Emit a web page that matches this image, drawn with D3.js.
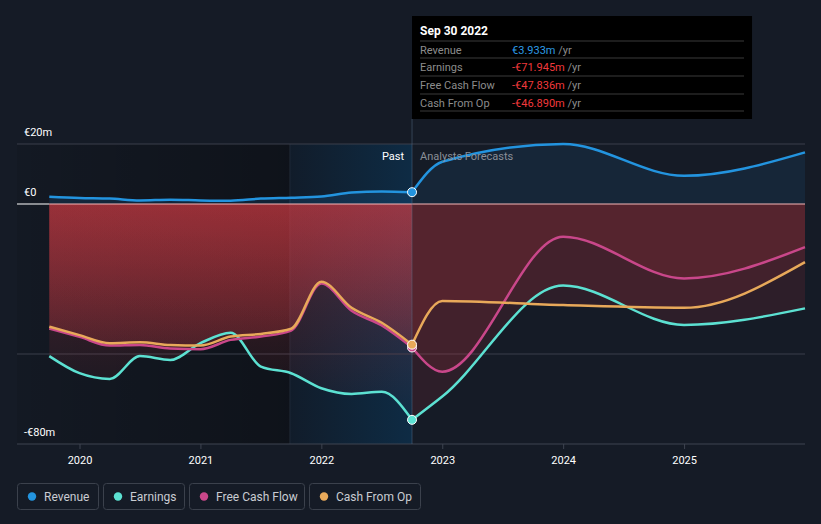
<!DOCTYPE html>
<html>
<head>
<meta charset="utf-8">
<script src="https://cdn.jsdelivr.net/npm/d3@7"></script>
<style>
  body { margin: 0; background: #151b26; }
  svg { display: block; font-family: Roboto, "Open Sans", sans-serif; }
</style>
</head>
<body>
<div id="chart"></div>
<script>
// past data (quarterly, trailing twelve months), in €m
var pastDates = [2019.75, 2020, 2020.25, 2020.5, 2020.75, 2021, 2021.25, 2021.5, 2021.75, 2022, 2022.25, 2022.5, 2022.75];
var pastRevenue = [2.4, 2.0, 1.8, 1.2, 1.4, 1.2, 1.1, 1.8, 2.1, 2.5, 3.8, 4.2, 3.933];
var pastEarnings = [-50.7, -56.4, -58.3, -50.7, -52, -46.4, -42.9, -54.2, -56.4, -61.4, -63.3, -62.6, -71.945];
var pastFcf = [-41.5, -44.3, -47.2, -47, -48.2, -48.4, -45.3, -44.2, -42.2, -26.5, -35.6, -40.5, -47.836];
var pastCfo = [-40.9, -43.7, -46.4, -46.1, -47, -47.2, -44.2, -43.3, -41.6, -25.9, -34.6, -39.6, -46.89];

// analyst forecasts (year ends)
var fcDates = [2022.75, 2023, 2024, 2025, 2026];
var fcRevenue = [3.933, 14.1, 20, 9.4, 17.2];
var fcEarnings = [-71.945, -64.2, -27.2, -40.3, -34.8];
var fcFcf = [-47.836, -55.9, -10.9, -24.8, -14.4];
var fcCfo = [-46.89, -32.3, -33.7, -34.6, -19.4];

var yearTicks = [2020, 2021, 2022, 2023, 2024, 2025];
var yTickLabels = [{v: 20, t: "€20m"}, {v: 0, t: "€0"}, {v: -80, t: "-€80m"}];
var gridValues = [20, -50];

var seriesNames = ["Revenue", "Earnings", "Free Cash Flow", "Cash From Op"];
var seriesColors = ["#2394df", "#5ce1d2", "#c9478a", "#e8a95a"];
var tipValues = ["€3.933m", "-€71.945m", "-€47.836m", "-€46.890m"];

var W = 821, H = 524;
var left = 17, right = 805;
var splitDate = 2022.75, pastStart = 2021.74;

var x = d3.scaleLinear().domain([2019.483, 2026]).range([left, right]);
var y = d3.scaleLinear().domain([-80, 20]).range([444, 144]);

var svg = d3.select("#chart").append("svg")
    .attr("width", W).attr("height", H);

var defs = svg.append("defs");

var g1 = defs.append("linearGradient").attr("id", "darkPast")
    .attr("x1", 0).attr("x2", 1).attr("y1", 0).attr("y2", 0);
g1.append("stop").attr("offset", 0).attr("stop-color", "#000").attr("stop-opacity", 0.08);
g1.append("stop").attr("offset", 1).attr("stop-color", "#000").attr("stop-opacity", 0.32);

var g2 = defs.append("linearGradient").attr("id", "lastYear")
    .attr("x1", 0).attr("x2", 1).attr("y1", 0).attr("y2", 0);
g2.append("stop").attr("offset", 0).attr("stop-color", "#0a1e32").attr("stop-opacity", 0.35);
g2.append("stop").attr("offset", 1).attr("stop-color", "#004a7d").attr("stop-opacity", 0.35);

var g3 = defs.append("linearGradient").attr("id", "redPast")
    .attr("gradientUnits", "userSpaceOnUse")
    .attr("x1", 0).attr("x2", 0).attr("y1", y(0)).attr("y2", y(-75));
g3.append("stop").attr("offset", 0).attr("stop-color", "#e33e46").attr("stop-opacity", 0.29);
g3.append("stop").attr("offset", 1).attr("stop-color", "#e33e46").attr("stop-opacity", 0.0);

// background bands
svg.append("rect")
    .attr("x", left).attr("y", y(20))
    .attr("width", x(pastStart) - left).attr("height", y(-80) - y(20))
    .attr("fill", "url(#darkPast)");
svg.append("rect")
    .attr("x", x(pastStart)).attr("y", y(20))
    .attr("width", x(splitDate) - x(pastStart)).attr("height", y(-80) - y(20))
    .attr("fill", "url(#lastYear)");
svg.append("line")
    .attr("x1", x(pastStart)).attr("x2", x(pastStart))
    .attr("y1", y(20)).attr("y2", y(-80))
    .attr("stroke", "#2a3544").attr("stroke-opacity", 0.6);

// grid
svg.selectAll(".grid").data(gridValues).enter().append("line")
    .attr("x1", left).attr("x2", right)
    .attr("y1", function(d) { return y(d); }).attr("y2", function(d) { return y(d); })
    .attr("stroke", "#3a3f4a").attr("stroke-width", 1);

function zip(dates, vals) { return dates.map(function(d, i) { return [d, vals[i]]; }); }

var area = d3.area().curve(d3.curveMonotoneX)
    .x(function(d) { return x(d[0]); })
    .y0(y(0))
    .y1(function(d) { return y(d[1]); });

var line = d3.line().curve(d3.curveMonotoneX)
    .x(function(d) { return x(d[0]); })
    .y(function(d) { return y(d[1]); });

// revenue area
svg.append("path").datum(zip(pastDates, pastRevenue)).attr("d", area)
    .attr("fill", "#2196f3").attr("fill-opacity", 0.12);
svg.append("path").datum(zip(fcDates, fcRevenue)).attr("d", area)
    .attr("fill", "#2196f3").attr("fill-opacity", 0.09);

// negative areas
[pastEarnings, pastFcf, pastCfo].forEach(function(vals) {
  svg.append("path").datum(zip(pastDates, vals)).attr("d", area)
    .attr("fill", "url(#redPast)");
});
[fcEarnings, fcFcf, fcCfo].forEach(function(vals) {
  svg.append("path").datum(zip(fcDates, vals)).attr("d", area)
    .attr("fill", "#e0363e").attr("fill-opacity", 0.12);
});

// zero line
svg.append("line")
    .attr("x1", left).attr("x2", x(pastDates[0]))
    .attr("y1", y(0)).attr("y2", y(0))
    .attr("stroke", "#fff").attr("stroke-width", 1.2);
svg.append("line")
    .attr("x1", x(pastDates[0])).attr("x2", right)
    .attr("y1", y(0)).attr("y2", y(0))
    .attr("stroke", "#f5b5b5").attr("stroke-width", 1.2);

// bottom axis
var xAxis = svg.append("g")
    .attr("transform", "translate(0," + y(-80) + ")")
    .call(d3.axisBottom(x).tickValues(yearTicks).tickFormat(d3.format("d")).tickSize(5).tickPadding(7));
xAxis.select(".domain").remove();
xAxis.selectAll(".tick line").attr("stroke", "#3e4450");
xAxis.selectAll(".tick text").attr("fill", "#fff").attr("font-size", 11).attr("font-family", "Roboto, sans-serif");
svg.append("line")
    .attr("x1", left).attr("x2", right)
    .attr("y1", y(-80)).attr("y2", y(-80))
    .attr("stroke", "#3e4450");

// divider line at the last reported date
svg.append("line")
    .attr("x1", x(splitDate)).attr("x2", x(splitDate))
    .attr("y1", 119).attr("y2", y(-80))
    .attr("stroke", "#5a7490").attr("stroke-opacity", 0.45);

// series lines
var allPast = [pastRevenue, pastEarnings, pastFcf, pastCfo];
var allFc = [fcRevenue, fcEarnings, fcFcf, fcCfo];
seriesNames.forEach(function(name, i) {
  svg.append("path").datum(zip(pastDates, allPast[i])).attr("d", line)
    .attr("fill", "none").attr("stroke", seriesColors[i]).attr("stroke-width", 2.5);
  svg.append("path").datum(zip(fcDates, allFc[i])).attr("d", line)
    .attr("fill", "none").attr("stroke", seriesColors[i]).attr("stroke-width", 2.5);
});
seriesNames.forEach(function(name, i) {
  svg.append("circle")
    .attr("cx", x(splitDate)).attr("cy", y(allPast[i][allPast[i].length - 1]))
    .attr("r", 4.5)
    .attr("fill", seriesColors[i]).attr("stroke", "#fff").attr("stroke-width", 1);
});

// y labels
svg.selectAll(".ylab").data(yTickLabels).enter().append("text")
    .attr("x", 24).attr("y", function(d) { return y(d.v) - 8; })
    .attr("fill", "#fff").attr("font-size", 11)
    .text(function(d) { return d.t; });

// past / forecast labels
svg.append("text").attr("x", x(splitDate) - 8).attr("y", 160)
    .attr("text-anchor", "end").attr("fill", "#fff").attr("font-size", 11).text("Past");
svg.append("text").attr("x", x(splitDate) + 8).attr("y", 160)
    .attr("fill", "#8a8f98").attr("font-size", 11).text("Analysts Forecasts");

// tooltip
var tip = svg.append("g").attr("transform", "translate(" + x(splitDate) + ",16)");
tip.append("rect").attr("width", 340).attr("height", 103).attr("fill", "#000");
tip.append("text").attr("x", 8).attr("y", 19)
    .attr("fill", "#fff").attr("font-size", 12).attr("font-weight", "bold").text("Sep 30 2022");
var rowY = [25, 42, 60, 78, 95];
rowY.forEach(function(ry) {
  tip.append("line").attr("x1", 8).attr("x2", 332).attr("y1", ry).attr("y2", ry)
    .attr("stroke", "#3a3a3a");
});
seriesNames.forEach(function(name, i) {
  var ty = rowY[i] + 12.5;
  tip.append("text").attr("x", 8).attr("y", ty)
    .attr("fill", "#8c8c8c").attr("font-size", 11).text(name);
  var t = tip.append("text").attr("x", 100).attr("y", ty).attr("font-size", 11);
  t.append("tspan").attr("fill", i === 0 ? "#2d9be6" : "#f0393c").text(tipValues[i]);
  t.append("tspan").attr("fill", "#8c8c8c").text(" /yr");
});

// legend
var legendW = [81, 81, 115, 111];
var lx = 17;
seriesNames.forEach(function(name, i) {
  var lg = svg.append("g").attr("transform", "translate(" + lx + ",483)");
  lg.append("rect").attr("x", 0.5).attr("y", 0.5).attr("width", legendW[i]).attr("height", 26)
    .attr("rx", 3).attr("fill", "none").attr("stroke", "#3b414c");
  lg.append("circle").attr("cx", 15).attr("cy", 13.5).attr("r", 4.2).attr("fill", seriesColors[i]);
  lg.append("text").attr("x", 27).attr("y", 17.5).attr("fill", "#c9ccd2").attr("font-size", 12).text(name);
  lx += legendW[i] + 5;
});
</script>
</body>
</html>
